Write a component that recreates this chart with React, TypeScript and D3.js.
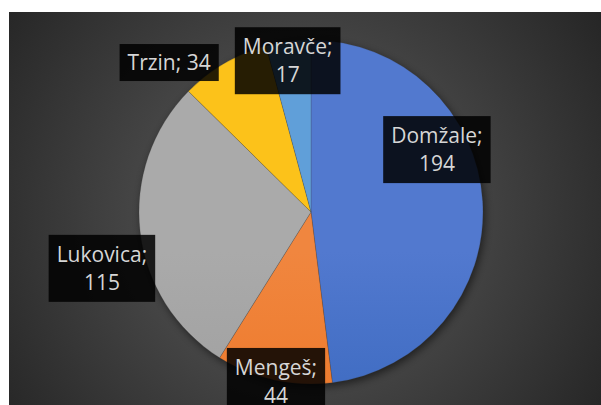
import React, { useRef, useEffect } from 'react'
import * as d3 from 'd3'

const categories = ['Domžale', 'Mengeš', 'Lukovica', 'Trzin', 'Moravče']
const values = [194, 44, 115, 34, 17]
// label text lines, as Excel wraps them
const labelLines = [
  ['Domžale;', '194'],
  ['Mengeš;', '44'],
  ['Lukovica;', '115'],
  ['Trzin; 34'],
  ['Moravče;', '17'],
]

// top / middle / bottom shades of each slice gradient
const sliceColors = [
  ['#5279cf', '#3c6ac0', '#2b5ab4'],
  ['#f0863f', '#ee792a', '#e86f1a'],
  ['#aaaaaa', '#9f9f9f', '#939393'],
  ['#fcc21a', '#f5b900', '#e6ae00'],
  ['#609fd9', '#4f90ce', '#3f7fc5'],
]
// where the labels sit: radius as share of pie radius, angle shift in degrees
const labelRadius = [0.817, 1.006, 1.259, 1.198, 0.89]
const labelShift = [-22.8, -0.8, -8.4, -13.2, -1.2]

export default function App() {
  const ref = useRef<SVGSVGElement>(null)

  useEffect(() => {
    const svg = d3.select(ref.current)
    svg.selectAll('*').remove()

    const width = 601
    const height = 405
    const area = { x: 9, y: 12 }
    const cx = 311
    const cy = 212
    const r = 172

    const defs = svg.append('defs')
    const bg = defs
      .append('radialGradient')
      .attr('id', 'bg')
      .attr('gradientUnits', 'userSpaceOnUse')
      .attr('cx', 300)
      .attr('cy', 215)
      .attr('r', 380)
    bg.append('stop').attr('offset', 0).attr('stop-color', '#575757')
    bg.append('stop').attr('offset', 0.45).attr('stop-color', '#444444')
    bg.append('stop').attr('offset', 1).attr('stop-color', '#232323')

    sliceColors.forEach((c, i) => {
      const g = defs
        .append('linearGradient')
        .attr('id', `slice${i}`)
        .attr('gradientUnits', 'userSpaceOnUse')
        .attr('x1', 0)
        .attr('x2', 0)
        .attr('y1', cy - r)
        .attr('y2', cy + r)
      g.append('stop').attr('offset', 0).attr('stop-color', c[0])
      g.append('stop').attr('offset', 0.5).attr('stop-color', c[1])
      g.append('stop').attr('offset', 1).attr('stop-color', c[2])
    })

    defs
      .append('filter')
      .attr('id', 'blur')
      .attr('x', '-20%')
      .attr('y', '-20%')
      .attr('width', '140%')
      .attr('height', '140%')
      .append('feGaussianBlur')
      .attr('stdDeviation', 4)

    svg
      .append('rect')
      .attr('x', area.x)
      .attr('y', area.y)
      .attr('width', width - area.x)
      .attr('height', height - area.y)
      .attr('fill', 'url(#bg)')

    const pie = d3
      .pie<number>()
      .sort(null)
      .value((d) => d)
    const arcs = pie(values)
    const arc = d3.arc<d3.PieArcDatum<number>>().innerRadius(0).outerRadius(r)

    // soft shadow under the pie
    svg
      .append('circle')
      .attr('cx', cx + 2)
      .attr('cy', cy + 3)
      .attr('r', r)
      .attr('fill', '#000')
      .attr('fill-opacity', 0.55)
      .attr('filter', 'url(#blur)')

    const pieG = svg.append('g').attr('transform', `translate(${cx},${cy})`)

    pieG
      .selectAll('path')
      .data(arcs)
      .join('path')
      .attr('d', arc)
      .attr('fill', (_, i) => `url(#slice${i})`)
      .attr('stroke', 'rgba(60,60,60,0.35)')
      .attr('stroke-width', 0.6)

    const lineH = 28
    const labels = svg.append('g')
    arcs.forEach((a, i) => {
      const mid = (a.startAngle + a.endAngle) / 2 + (labelShift[i] * Math.PI) / 180
      const lr = r * labelRadius[i]
      const lx = cx + lr * Math.sin(mid)
      const ly = cy - lr * Math.cos(mid)
      const lines = labelLines[i]
      const n = lines.length

      const g = labels.append('g').attr('aria-label', categories[i])
      const rect = g.append('rect').attr('fill', '#000').attr('fill-opacity', 0.85)
      const text = g
        .append('text')
        .attr('text-anchor', 'middle')
        .attr('font-family', '"Open Sans", sans-serif')
        .attr('font-size', 21)
        .attr('fill', '#d6d6d6')
      lines.forEach((t, j) => {
        text
          .append('tspan')
          .attr('x', lx)
          .attr('y', ly + 7.5 + (j - (n - 1) / 2) * lineH)
          .text(t)
      })
      const tw = (text.node() as SVGTextElement).getBBox().width
      const bw = tw + 16
      const bh = n * 30 + 7
      rect
        .attr('x', lx - bw / 2)
        .attr('y', ly - bh / 2)
        .attr('width', bw)
        .attr('height', bh)
    })
  }, [])

  return (
    <svg
      ref={ref}
      width={601}
      height={405}
      style={{ position: 'absolute', left: 0, top: 0, background: '#fff' }}
    ></svg>
  )
}
